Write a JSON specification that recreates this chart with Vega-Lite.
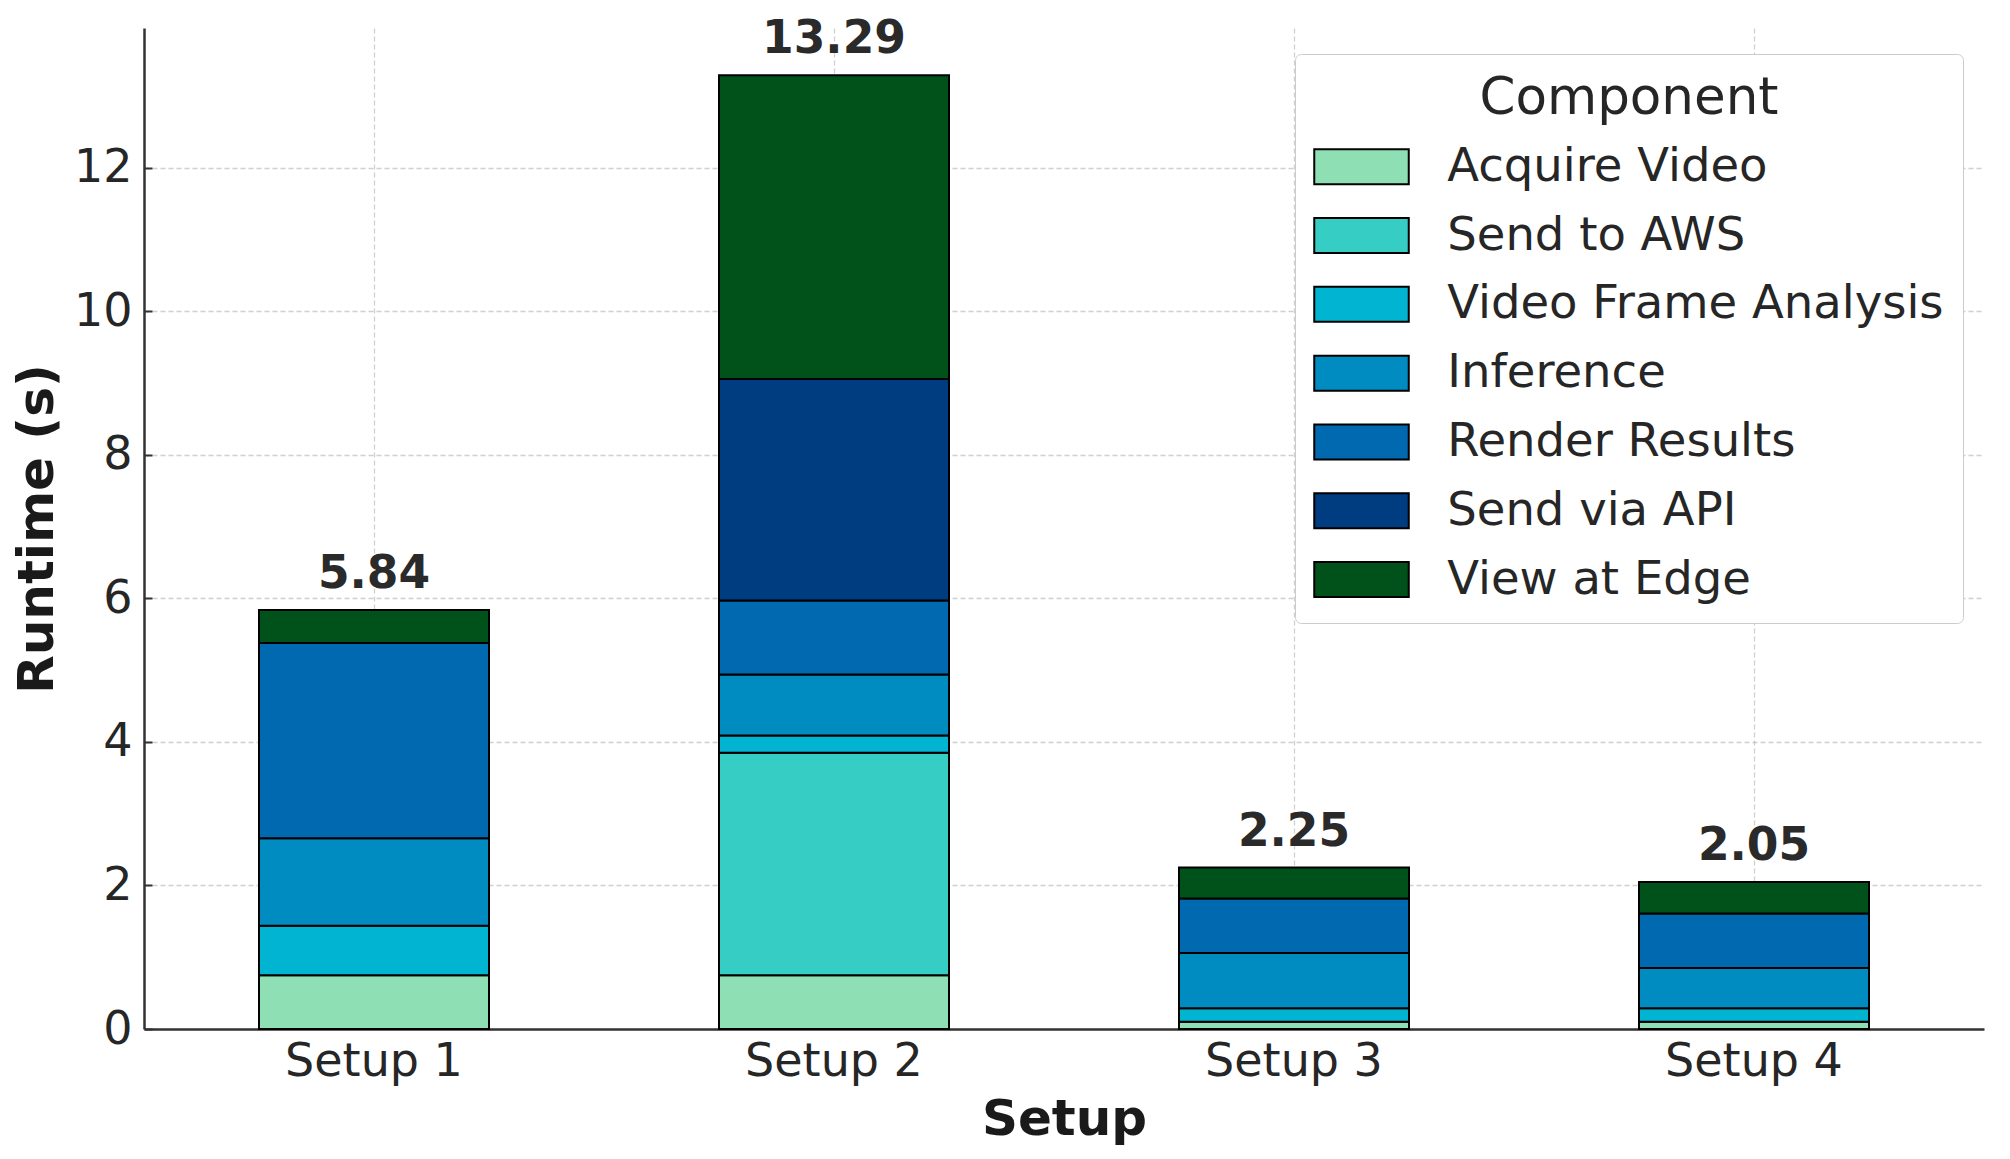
{
  "$schema": "https://vega.github.io/schema/vega-lite/v6.json",
  "width": 1840,
  "height": 1001,
  "autosize": {"type": "none"},
  "padding": {"left": 144, "top": 28, "right": 26, "bottom": 130},
  "background": "white",
  "config": {
    "view": {"stroke": null},
    "font": "DejaVu Sans",
    "axis": {
      "labelFont": "DejaVu Sans",
      "titleFont": "DejaVu Sans",
      "labelFontSize": 46,
      "titleFontSize": 50,
      "titleFontWeight": "bold",
      "labelColor": "#262626",
      "titleColor": "#1a1a1a",
      "domainColor": "#333333",
      "domainWidth": 2.5,
      "tickColor": "#333333",
      "tickWidth": 2,
      "tickSize": -8,
      "grid": true,
      "gridColor": "#b0b0b0",
      "gridOpacity": 0.6,
      "gridWidth": 1.3,
      "gridDash": [5, 3],
      "zindex": 1
    },
    "legend": {
      "zindex": 2
    }
  },
  "data": {
    "values": [
      {"setup": "Setup 1", "component": "Acquire Video", "step": 1, "runtime": 0.75},
      {"setup": "Setup 1", "component": "Video Frame Analysis", "step": 3, "runtime": 0.69},
      {"setup": "Setup 1", "component": "Inference", "step": 4, "runtime": 1.22},
      {"setup": "Setup 1", "component": "Render Results", "step": 5, "runtime": 2.72},
      {"setup": "Setup 1", "component": "View at Edge", "step": 7, "runtime": 0.46},
      {"setup": "Setup 2", "component": "Acquire Video", "step": 1, "runtime": 0.75},
      {"setup": "Setup 2", "component": "Send to AWS", "step": 2, "runtime": 3.10},
      {"setup": "Setup 2", "component": "Video Frame Analysis", "step": 3, "runtime": 0.24},
      {"setup": "Setup 2", "component": "Inference", "step": 4, "runtime": 0.85},
      {"setup": "Setup 2", "component": "Render Results", "step": 5, "runtime": 1.03},
      {"setup": "Setup 2", "component": "Send via API", "step": 6, "runtime": 3.09},
      {"setup": "Setup 2", "component": "View at Edge", "step": 7, "runtime": 4.23},
      {"setup": "Setup 3", "component": "Acquire Video", "step": 1, "runtime": 0.10},
      {"setup": "Setup 3", "component": "Video Frame Analysis", "step": 3, "runtime": 0.19},
      {"setup": "Setup 3", "component": "Inference", "step": 4, "runtime": 0.77},
      {"setup": "Setup 3", "component": "Render Results", "step": 5, "runtime": 0.76},
      {"setup": "Setup 3", "component": "View at Edge", "step": 7, "runtime": 0.43},
      {"setup": "Setup 4", "component": "Acquire Video", "step": 1, "runtime": 0.10},
      {"setup": "Setup 4", "component": "Video Frame Analysis", "step": 3, "runtime": 0.19},
      {"setup": "Setup 4", "component": "Inference", "step": 4, "runtime": 0.56},
      {"setup": "Setup 4", "component": "Render Results", "step": 5, "runtime": 0.76},
      {"setup": "Setup 4", "component": "View at Edge", "step": 7, "runtime": 0.44}
    ]
  },
  "encoding": {
    "x": {
      "field": "setup",
      "type": "nominal",
      "sort": ["Setup 1", "Setup 2", "Setup 3", "Setup 4"],
      "scale": {"paddingInner": 0.5, "paddingOuter": 0.25},
      "axis": {
        "title": "Setup",
        "labelAngle": 0,
        "labelPadding": 18,
        "titlePadding": 10,
        "bandPosition": 0.5
      }
    }
  },
  "layer": [
    {
      "mark": {"type": "bar", "stroke": "black", "strokeWidth": 2},
      "encoding": {
        "y": {
          "field": "runtime",
          "type": "quantitative",
          "aggregate": "sum",
          "stack": "zero",
          "scale": {"domain": [0, 13.95], "nice": false},
          "axis": {
            "title": "Runtime (s)",
            "values": [0, 2, 4, 6, 8, 10, 12],
            "format": "d",
            "labelPadding": 20,
            "titlePadding": 11
          }
        },
        "color": {
          "field": "component",
          "type": "nominal",
          "scale": {
            "domain": ["Acquire Video", "Send to AWS", "Video Frame Analysis", "Inference", "Render Results", "Send via API", "View at Edge"],
            "range": ["#8fdfb4", "#36cdc4", "#00b4d2", "#008cc0", "#0069b0", "#003c80", "#00521a"]
          },
          "legend": {
            "title": "Component",
            "orient": "none",
            "legendX": 1151,
            "legendY": 26,
            "titleFont": "DejaVu Sans",
            "titleFontSize": 51.5,
            "titleFontWeight": "normal",
            "titleColor": "#262626",
            "titleAnchor": "middle",
            "titleLimit": 1000,
            "titlePadding": 19,
            "labelFont": "DejaVu Sans",
            "labelFontSize": 46.5,
            "labelColor": "#262626",
            "labelLimit": 800,
            "labelOffset": 62.5,
            "symbolType": "M-2.7,-1H2.7V1H-2.7Z",
            "symbolSize": 1225,
            "symbolOffset": 24.25,
            "symbolStrokeColor": "black",
            "symbolStrokeWidth": 2,
            "symbolOpacity": 1,
            "rowPadding": 21.8,
            "padding": 19,
            "fillColor": "white",
            "strokeColor": "#cccccc",
            "cornerRadius": 6
          }
        },
        "order": {"field": "step", "type": "quantitative", "sort": "ascending"}
      }
    },
    {
      "mark": {
        "type": "text",
        "font": "DejaVu Sans",
        "fontSize": 45.5,
        "fontWeight": "bold",
        "color": "#2a2a2a",
        "baseline": "alphabetic",
        "dy": -22
      },
      "encoding": {
        "y": {"field": "runtime", "type": "quantitative", "aggregate": "sum"},
        "text": {"field": "runtime", "type": "quantitative", "aggregate": "sum", "format": ".2f"}
      }
    }
  ]
}
